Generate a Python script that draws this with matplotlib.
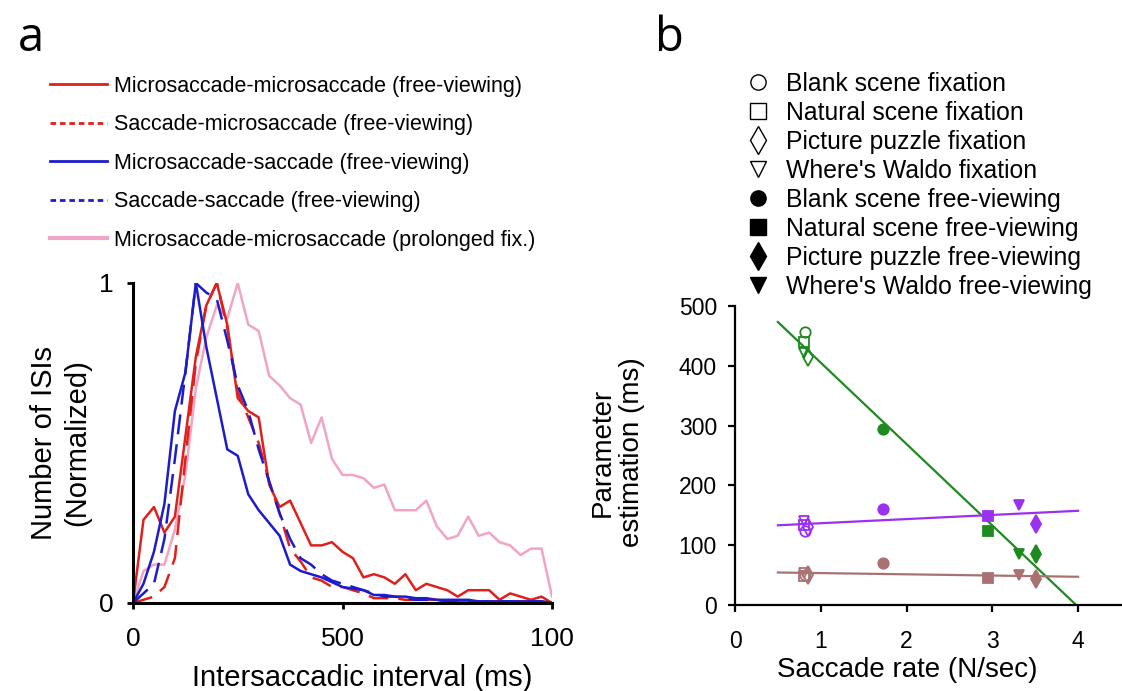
import numpy as np
import matplotlib.pyplot as plt
from matplotlib.lines import Line2D

plt.rcParams['font.family'] = ['Liberation Sans', 'DejaVu Sans']

# ---- a: normalised intersaccadic-interval distributions (25 ms bins) ----
isi_ms = list(range(0, 1001, 25))
micro_micro_free = [0, .26, .30, .22, .27, .52, .77, .93, 1.0, .87, .64, .60, .58, .37, .30, .32,
                    .25, .18, .18, .19, .16, .14, .08, .09, .08, .06, .09, .04, .06, .05, .04,
                    .02, .04, .04, .04, .01, .03, .02, .01, .02, 0]
sacc_micro_free = [0, .01, .02, .05, .14, .45, .75, .93, 1.0, .86, .66, .58, .50, .38, .28, .17,
                   .13, .08, .07, .05, .05, .04, .03, .015, .015, .015, .01, .01, .01, .01, .005,
                   .005, .005, .005, .005, .005, .005, .005, .005, .005, 0]
micro_sacc_free = [0, .06, .16, .31, .60, .72, 1.0, .80, .64, .48, .46, .34, .29, .25, .21, .12,
                   .10, .09, .08, .065, .05, .045, .04, .025, .025, .02, .02, .015, .015, .01,
                   .01, .01, .01, .005, .005, .005, .005, .005, .005, .005, 0]
sacc_sacc_free = [0, .03, .06, .20, .45, .72, 1.0, .97, .95, .82, .68, .60, .48, .38, .28, .20,
                  .14, .12, .09, .07, .06, .05, .04, .03, .02, .02, .015, .01, .01, .01, .005,
                  .005, .005, .005, .005, .005, .005, .005, .005, .005, 0]
micro_micro_fix = [0, .10, .12, .12, .23, .40, .67, .83, .93, .89, 1.0, .87, .85, .71, .68, .64,
                   .62, .50, .58, .45, .40, .40, .39, .36, .37, .29, .29, .29, .32, .24, .20,
                   .21, .27, .21, .22, .19, .18, .15, .17, .17, .02]

# ---- b: parameter estimates vs saccade rate ----
conditions = ["Blank scene fixation", "Natural scene fixation", "Picture puzzle fixation",
              "Where's Waldo fixation", "Blank scene free-viewing", "Natural scene free-viewing",
              "Picture puzzle free-viewing", "Where's Waldo free-viewing"]
saccade_rate = [0.82, 0.80, 0.85, 0.81, 1.72, 2.95, 3.51, 3.31]
param_green = [456, 440, 414, 421, 294, 124, 86, 85]
param_purple = [124, 134, 131, 140, 160, 149, 135, 168]
param_brown = [50, 49, 51, 53, 71, 45, 44, 50]

RED = "#e0201c"
BLUE = "#1c1ccc"
PINK = "#f2a3c6"
GREEN = "#1f8a1f"
PURPLE = "#9b30f0"
BROWN = "#a87272"

cond_markers = ["o", "s", "d", "v", "o", "s", "d", "v"]
cond_filled = [False] * 4 + [True] * 4

fig = plt.figure(figsize=(11.22, 6.91), dpi=100)

# panel a
ax = fig.add_axes([133 / 1122, 1 - 603 / 691, (552 - 133) / 1122, (603 - 283) / 691])
dash = (0, (8, 4))
ax.plot(isi_ms, micro_micro_fix, color=PINK, lw=1.8)
ax.plot(isi_ms, micro_micro_free, color=RED, lw=1.8)
ax.plot(isi_ms, sacc_micro_free, color=RED, lw=1.8, ls=dash)
ax.plot(isi_ms, micro_sacc_free, color=BLUE, lw=1.8)
ax.plot(isi_ms, sacc_sacc_free, color=BLUE, lw=1.8, ls=dash)
ax.set_xlim(0, 1000)
ax.set_ylim(0, 1)
ax.set_xticks([0, 500, 1000])
ax.set_xticklabels(["0", "500", "100"])
ax.set_yticks([0, 1])
ax.set_yticklabels(["0", "1"])
for s in ["top", "right"]:
    ax.spines[s].set_visible(False)
for s in ["left", "bottom"]:
    ax.spines[s].set_linewidth(2.2)
ax.tick_params(labelsize=19, width=2, length=4)
ax.tick_params(axis="x", pad=13)
ax.tick_params(axis="y", pad=10)
ax.set_xlabel("Intersaccadic interval (ms)", fontsize=21)
ax.xaxis.set_label_coords((362 - 133) / (552 - 133), -0.19)
ax.set_ylabel("Number of ISIs\n(Normalized)", fontsize=21, linespacing=1.25)
ax.yaxis.set_label_coords(-0.10, 0.5)

short = (0, (2, 1.4))
handles_a = [
    Line2D([], [], color=RED, lw=2),
    Line2D([], [], color=RED, lw=2, ls=short),
    Line2D([], [], color=BLUE, lw=2),
    Line2D([], [], color=BLUE, lw=2, ls=short),
    Line2D([], [], color=PINK, lw=3),
]
labels_a = ["Microsaccade-microsaccade (free-viewing)", "Saccade-microsaccade (free-viewing)",
            "Microsaccade-saccade (free-viewing)", "Saccade-saccade (free-viewing)",
            "Microsaccade-microsaccade (prolonged fix.)"]
fig.legend(handles_a, labels_a, loc="upper left", bbox_to_anchor=(50 / 1122, 1 - 76 / 691),
           frameon=False, fontsize=15.5, handlelength=2.65, handletextpad=0.33,
           labelspacing=0.81, borderpad=0, borderaxespad=0)

# panel b
bx = fig.add_axes([735 / 1122, 1 - 605 / 691, (1121 - 735) / 1122, (605 - 306) / 691])
fit_x = np.array([0.5, 4.0])
for vals, col in [(param_green, GREEN), (param_purple, PURPLE), (param_brown, BROWN)]:
    k, b = np.polyfit(saccade_rate, vals, 1)
    bx.plot(fit_x, k * fit_x + b, color=col, lw=1.6, zorder=2)
    for xr, v, m, f in zip(saccade_rate, vals, cond_markers, cond_filled):
        ms = 9 if m == "d" else 7.5
        bx.plot(xr, v, marker=m, ms=ms, ls="none", mec=col, mew=1.3,
                mfc=col if f else "none", zorder=3)
bx.set_xlim(0, 4.5)
bx.set_ylim(0, 500)
bx.set_xticks([0, 1, 2, 3, 4])
bx.set_yticks([0, 100, 200, 300, 400, 500])
for s in ["top", "right"]:
    bx.spines[s].set_visible(False)
for s in ["left", "bottom"]:
    bx.spines[s].set_linewidth(1.6)
bx.tick_params(labelsize=16.5, width=1.6, length=5)
bx.tick_params(axis="x", pad=13)
bx.tick_params(axis="y", pad=8)
bx.set_xlabel("Saccade rate (N/sec)", fontsize=20)
bx.xaxis.set_label_coords((907 - 735) / (1121 - 735), -0.175)
bx.set_ylabel("Parameter\nestimation (ms)", fontsize=20, linespacing=1.15)
bx.yaxis.set_label_coords(-0.233, 0.51)

handles_b = [Line2D([], [], marker=m, ls="none", color="k", mec="k", mew=1.0,
                    mfc="k" if f else "none", ms=14 if m == "d" else 11)
             for m, f in zip(cond_markers, cond_filled)]
fig.legend(handles_b, conditions, loc="upper left", bbox_to_anchor=(0.665, 1 - 72 / 691),
           frameon=False, fontsize=17.8, handlelength=1.0, handletextpad=0.6,
           labelspacing=0.2, borderpad=0, borderaxespad=0)

fig.text(18 / 1122, 1 - 38 / 691, "a", fontsize=34, family="Open Sans", va="center")
fig.text(655 / 1122, 1 - 38 / 691, "b", fontsize=34, family="Open Sans", va="center")

fig.savefig("out.png", dpi=100)
